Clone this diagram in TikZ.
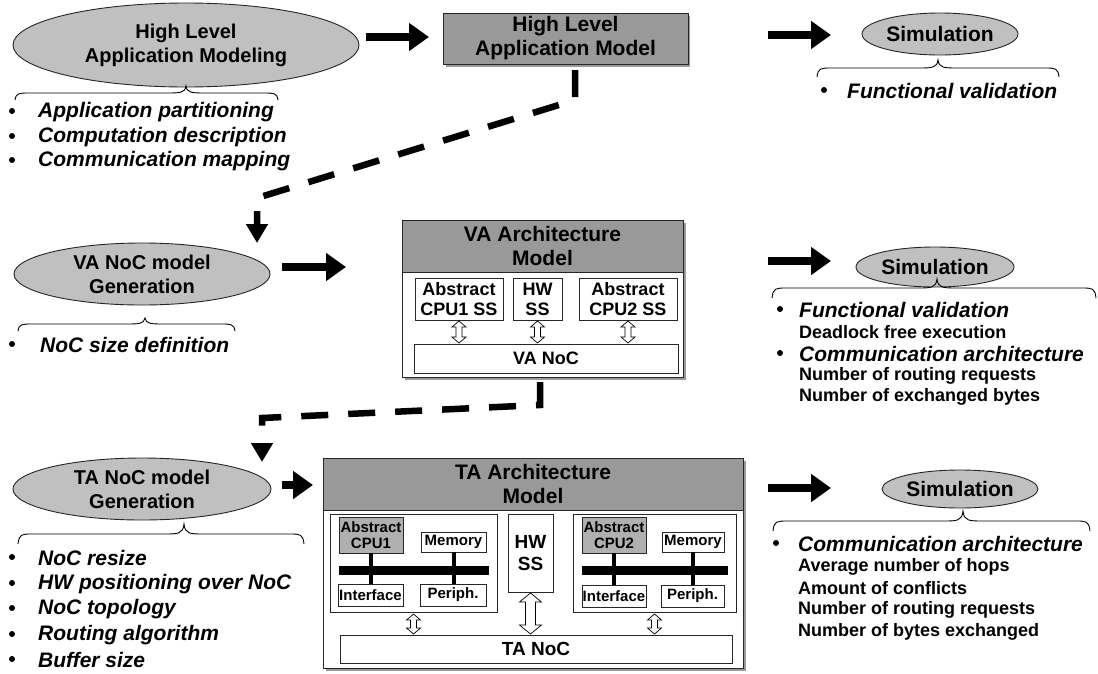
\documentclass[tikz,border=0pt]{standalone}
\usepackage{fontspec}
\setmainfont{Liberation Sans}
\usetikzlibrary{arrows.meta,shapes.geometric}
\definecolor{ellgray}{HTML}{C0C0C0}
\definecolor{hdrgray}{HTML}{999999}
\definecolor{cpugray}{HTML}{B0B0B0}
\definecolor{shd}{HTML}{9A9A9A}
\newcommand{\titlef}{\bfseries\fontsize{21}{24}\selectfont}
\newcommand{\gentf}{\bfseries\fontsize{20}{24}\selectfont}
\newcommand{\itemf}{\bfseries\itshape\fontsize{21}{24}\selectfont}
\newcommand{\subtf}{\bfseries\fontsize{18}{21}\selectfont}
\newcommand{\boxf}{\bfseries\fontsize{18}{20}\selectfont}
\newcommand{\smlf}{\bfseries\fontsize{15}{16}\selectfont}
% brace: xl xm xr ytip yflat yend
\newcommand{\brc}[6]{\draw[line width=0.9pt] (#1,#6) .. controls (#1+1,#5) and (#1+4,#5) .. (#1+14,#5) -- (#2-20,#5) .. controls (#2-6,#5) and (#2-1,#5) .. (#2,#4) .. controls (#2+1,#5) and (#2+6,#5) .. (#2+20,#5) -- (#3-14,#5) .. controls (#3-4,#5) and (#3-1,#5) .. (#3,#6);}
% hollow double arrow: x y1 y2 shafthalf headhalf headlen
\newcommand{\dbl}[6]{\draw[line width=0.7pt, fill=white] (#1,#2) -- (#1+#5,#2+#6) -- (#1+#4,#2+#6) -- (#1+#4,#3-#6) -- (#1+#5,#3-#6) -- (#1,#3) -- (#1-#5,#3-#6) -- (#1-#4,#3-#6) -- (#1-#4,#2+#6) -- (#1-#5,#2+#6) -- cycle;}
\tikzset{
 ell/.style={ellipse, draw=black!85, line width=0.9pt, fill=ellgray, inner sep=0pt, align=center, font=\titlef},
 gen/.style={ell, font=\gentf},
 hdr/.style={rectangle, draw=black!85, line width=0.9pt, fill=hdrgray, inner sep=0pt, align=center, font=\titlef},
 wbox/.style={rectangle, draw=black!85, line width=0.9pt, fill=white, inner sep=0pt, align=center, font=\boxf},
 cbox/.style={wbox, fill=cpugray, font=\smlf},
 sbox/.style={wbox, font=\smlf},
 fat/.style={line width=8pt, -{Triangle[length=20pt,width=27pt]}},
 dsh/.style={line width=6.5pt, dash pattern=on 27pt off 20pt, line join=miter, -{Triangle[length=19pt,width=21pt]}},
 itm/.style={anchor=west, inner sep=0pt, font=\itemf},
 subt/.style={anchor=west, inner sep=0pt, font=\subtf},
 bul/.style={circle, fill=black, inner sep=0pt, minimum size=6pt},
}
\begin{document}
\begin{tikzpicture}[x=1pt,y=-1pt]
\useasboundingbox (0,0) rectangle (1098,673);
\fill[white] (0,0) rectangle (1098,673);

% ---------------- top row
\node[gen, minimum width=346, minimum height=84] (e1) at (186,45) {High Level\\Application Modeling};
\fill[shd] (446,16) rectangle (690,67);
\node[hdr, minimum width=245, minimum height=51] (hlam) at (565.5,38.5) {High Level\\Application Model};
\node[ell, minimum width=156, minimum height=42] (s1) at (940,34) {Simulation};

\coordinate (a1s) at (366,37); \coordinate (a1e) at (429,37);
\draw[fat] (a1s) -- (a1e);
\coordinate (a2s) at (768,35); \coordinate (a2e) at (831,35);
\draw[fat] (a2s) -- (a2e);

\brc{15}{186}{278}{86}{93}{100}
\node[bul] (b1a) at (12,111) {}; \node[itm] (t1a) at (38,112) {Application partitioning};
\node[bul] (b1b) at (12,136) {}; \node[itm] (t1b) at (38,137) {Computation description};
\node[bul] (b1c) at (12,160) {}; \node[itm] (t1c) at (38,161) {Communication mapping};

\brc{817}{938}{1059}{60}{68}{77}
\node[bul] (b2a) at (824,90) {}; \node[itm] (t2a) at (847,91) {Functional validation};

\coordinate (d1a) at (575,70); \coordinate (d1b) at (575,100);
\coordinate (d1c) at (257,198); \coordinate (d1d) at (257,243);
\draw[dsh] (d1a) -- (d1b) -- (d1c) -- (d1d);

% ---------------- middle row
\node[gen, minimum width=256, minimum height=62] (e2) at (142,274) {VA NoC model\\Generation};
\coordinate (a3s) at (282,267); \coordinate (a3e) at (346,267);
\draw[fat] (a3s) -- (a3e);
\brc{18}{145}{235}{318}{324}{331}
\node[bul] (b3a) at (12,344) {}; \node[itm] (t3a) at (40,345) {NoC size definition};

\fill[shd] (405,223) rectangle (686,380);
\node[wbox, minimum width=281, minimum height=157] (vabox) at (542.5,298.5) {};
\node[hdr, minimum width=281, minimum height=52] (vahdr) at (542.5,246) {VA Architecture\\Model};
\node[wbox, minimum width=88, minimum height=42] (vcpu1) at (459,299) {Abstract\\CPU1 SS};
\node[wbox, minimum width=49, minimum height=42] (vhw) at (537.5,299) {HW\\SS};
\node[wbox, minimum width=98, minimum height=42] (vcpu2) at (628,299) {Abstract\\CPU2 SS};
\node[wbox, minimum width=264, minimum height=29] (vanoc) at (546,358.5) {VA NoC};
\dbl{459}{321}{343}{3}{7}{6}
\dbl{537.5}{321}{343}{3}{7}{6}
\dbl{628}{321}{343}{3}{7}{6}

\coordinate (a4s) at (768,261); \coordinate (a4e) at (831,261);
\draw[fat] (a4s) -- (a4e);
\node[ell, minimum width=158, minimum height=40] (s2) at (935,267) {Simulation};
\brc{772}{937}{1096}{279}{288}{298}
\node[bul] (b4a) at (780,309) {}; \node[itm] (t4a) at (799,310) {Functional validation};
\node[subt] (t4b) at (799,332) {Deadlock free execution};
\node[bul] (b4c) at (780,353) {}; \node[itm] (t4c) at (799,354) {Communication architecture};
\node[subt] (t4d) at (799,376) {Number of routing requests};
\node[subt] (t4e) at (799,397) {Number of exchanged bytes};

\coordinate (d2a) at (540,382); \coordinate (d2b) at (540,405);
\coordinate (d2c) at (262,418); \coordinate (d2d) at (262,462);
\draw[dsh] (d2a) -- (d2b) -- (d2c) -- (d2d);

% ---------------- bottom row
\node[gen, minimum width=258, minimum height=62] (e3) at (142,489) {TA NoC model\\Generation};
\coordinate (a5s) at (282,485); \coordinate (a5e) at (313,485);
\draw[fat] (a5s) -- (a5e);
\brc{18}{184}{304}{524}{534}{544}
\node[bul] (b5a) at (12,557) {}; \node[itm] (t5a) at (38,558) {NoC resize};
\node[bul] (b5b) at (12,583) {}; \node[itm] (t5b) at (38,584) {HW positioning over NoC};
\node[bul] (b5c) at (12,608) {}; \node[itm] (t5c) at (38,609) {NoC topology};
\node[bul] (b5d) at (12,634) {}; \node[itm] (t5d) at (38,635) {Routing algorithm};
\node[bul] (b5e) at (12,659) {}; \node[itm] (t5e) at (38,660) {Buffer size};

\fill[shd] (326,461) rectangle (746,671);
\node[wbox, minimum width=420, minimum height=210] (tabox) at (533,563) {};
\node[hdr, minimum width=420, minimum height=52] (tahdr) at (533,484) {TA Architecture\\Model};

\node[wbox, minimum width=167, minimum height=98] (lss) at (413.5,563) {};
\node[cbox, minimum width=64, minimum height=36] (cpu1) at (371,535) {Abstract\\CPU1};
\node[sbox, minimum width=65, minimum height=20] (mem1) at (453.5,542) {Memory};
\node[sbox, minimum width=65, minimum height=22] (int1) at (370.5,595) {Interface};
\node[sbox, minimum width=66, minimum height=22] (per1) at (453,595) {Periph.};
\draw[line width=4pt] (cpu1.south) -- (cpu1.south |- int1.north);
\draw[line width=4pt] (mem1.south) -- (mem1.south |- per1.north);
\coordinate (bus1w) at (339,570.5); \coordinate (bus1e) at (489,570.5);
\draw[line width=9pt] (bus1w) -- (bus1e);

\node[wbox, minimum width=45, minimum height=78, font=\bfseries\fontsize{19}{22}\selectfont] (hw2) at (530.5,553) {HW\\SS};

\node[wbox, minimum width=163, minimum height=98] (rss) at (654.5,563) {};
\node[cbox, minimum width=64, minimum height=36] (cpu2) at (614,535) {Abstract\\CPU2};
\node[sbox, minimum width=62, minimum height=20] (mem2) at (693,542) {Memory};
\node[sbox, minimum width=64, minimum height=22] (int2) at (614,596) {Interface};
\node[sbox, minimum width=63, minimum height=22] (per2) at (692.5,596) {Periph.};
\draw[line width=4pt] (cpu2.south) -- (cpu2.south |- int2.north);
\draw[line width=4pt] (mem2.south) -- (mem2.south |- per2.north);
\coordinate (bus2w) at (582,570.5); \coordinate (bus2e) at (728,570.5);
\draw[line width=9pt] (bus2w) -- (bus2e);

\node[wbox, minimum width=392, minimum height=28, font=\bfseries\fontsize{19}{22}\selectfont] (tanoc) at (536,649) {TA NoC};
\dbl{413.5}{614}{634}{3}{7}{6}
\dbl{530.5}{593}{634}{5}{11}{9}
\dbl{654.5}{614}{634}{3}{7}{6}

\coordinate (a6s) at (768,488); \coordinate (a6e) at (831,488);
\draw[fat] (a6s) -- (a6e);
\node[ell, minimum width=156, minimum height=38] (s3) at (960,489) {Simulation};
\brc{773}{963}{1090}{511}{521}{531}
\node[bul] (b6a) at (776,543) {}; \node[itm] (t6a) at (798,544) {Communication architecture};
\node[subt] (t6b) at (798,567) {Average number of hops};
\node[subt] (t6c) at (798,588) {Amount of conflicts};
\node[subt] (t6d) at (798,610) {Number of routing requests};
\node[subt] (t6e) at (798,632) {Number of bytes exchanged};
\end{tikzpicture}
\end{document}
